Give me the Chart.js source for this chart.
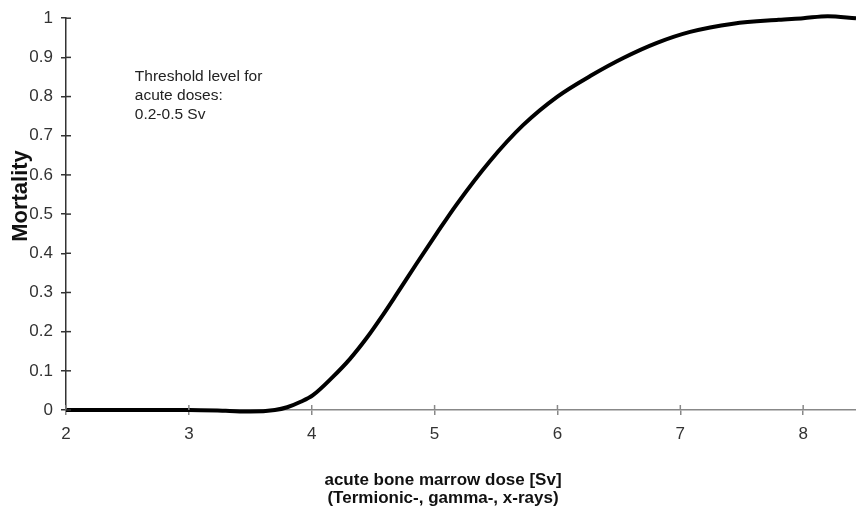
<!DOCTYPE html>
<html>
<head>
<meta charset="utf-8">
<script src="https://cdn.jsdelivr.net/npm/chart.js@4"></script>
<style>
  html, body { margin: 0; padding: 0; background: #fff; }
  #wrap { width: 856px; height: 520px; }
</style>
</head>
<body>
<div id="wrap"><canvas id="chart"></canvas></div>
<script>
// dose in Sv and mortality
const doses = [2.0, 2.5, 3.0, 3.3, 3.5, 3.7, 3.8, 3.91, 4.01, 4.17, 4.31, 4.45, 4.58, 4.69, 4.85, 5.02, 5.18, 5.45, 5.72, 6.0, 6.27, 6.54, 6.81, 7.08, 7.43, 7.8, 8.0, 8.2, 8.43]
const mortality = [0, 0, 0, -0.002, -0.004, 0, 0.007, 0.021, 0.038, 0.084, 0.13, 0.185, 0.243, 0.295, 0.372, 0.452, 0.525, 0.635, 0.727, 0.80, 0.853, 0.899, 0.937, 0.965, 0.986, 0.996, 1.0, 1.005, 1.0]
const noteLines = ['Threshold level for', 'acute doses:', '0.2-0.5 Sv']
const xTitleLines = ['acute bone marrow dose [Sv]', '(Termionic-, gamma-, x-rays)']
const yTitle = 'Mortality'

const FONT = "'Liberation Sans', Arial, sans-serif"

// small tick marks that reach into the plot, the note and the axis titles
const extras = {
	id: 'extras',
	afterDraw(chart) {
		const { ctx, scales } = chart
		const x = scales.x, y = scales.y
		ctx.save()
		ctx.lineWidth = 1.5
		ctx.strokeStyle = '#888'
		x.ticks.forEach((t) => {
			const px = x.getPixelForValue(t.value)
			ctx.beginPath()
			ctx.moveTo(px, y.bottom)
			ctx.lineTo(px, y.bottom - 5)
			ctx.stroke()
		})
		ctx.strokeStyle = '#333'
		y.ticks.forEach((t) => {
			const py = y.getPixelForValue(t.value)
			ctx.beginPath()
			ctx.moveTo(x.left, py)
			ctx.lineTo(x.left + 5, py)
			ctx.stroke()
		})
		ctx.fillStyle = '#222'
		ctx.font = '15.5px ' + FONT
		ctx.textBaseline = 'middle'
		const nx = x.getPixelForValue(2.56)
		const ny = y.getPixelForValue(0.85)
		noteLines.forEach((line, i) => ctx.fillText(line, nx, ny + i * 19))

		ctx.fillStyle = '#111'
		ctx.font = 'bold 17px ' + FONT
		ctx.textAlign = 'center'
		xTitleLines.forEach((line, i) => ctx.fillText(line, 443, 480 + i * 18))

		ctx.translate(27, 196)
		ctx.rotate(-Math.PI / 2)
		ctx.font = 'bold 22px ' + FONT
		ctx.textBaseline = 'alphabetic'
		ctx.fillText(yTitle, 0, 0)
		ctx.restore()
	},
}

new Chart(document.getElementById('chart'), {
	type: 'scatter',
	data: {
		datasets: [
			{
				data: doses.map((d, i) => ({ x: d, y: mortality[i] })),
				showLine: true,
				borderColor: '#000',
				borderWidth: 4,
				cubicInterpolationMode: 'monotone',
				pointRadius: 0,
				clip: false,
			},
		],
	},
	options: {
		responsive: true,
		maintainAspectRatio: false,
		animation: false,
		layout: { padding: { top: 15, right: 0, left: 0, bottom: 0 } },
		plugins: { legend: { display: false }, tooltip: { enabled: false } },
		scales: {
			x: {
				type: 'linear',
				min: 2,
				max: 8.43,
				afterFit: (s) => { s.height = 110 },
				border: { color: '#888', width: 1.5 },
				grid: { drawOnChartArea: false, tickLength: 5, color: '#888', lineWidth: 1.5 },
				ticks: { stepSize: 1, includeBounds: false, padding: 9, color: '#333', font: { family: FONT, size: 17 } },
			},
			y: {
				min: 0,
				max: 1,
				afterFit: (s) => { s.width = 66 },
				border: { color: '#333', width: 1.5 },
				grid: { drawOnChartArea: false, tickLength: 5, color: '#333', lineWidth: 1.5 },
				ticks: {
					stepSize: 0.1,
					padding: 8,
					color: '#333',
					font: { family: FONT, size: 17 },
					callback: (v) => String(+v.toFixed(1)),
				},
			},
		},
	},
	plugins: [extras],
})
</script>
</body>
</html>
